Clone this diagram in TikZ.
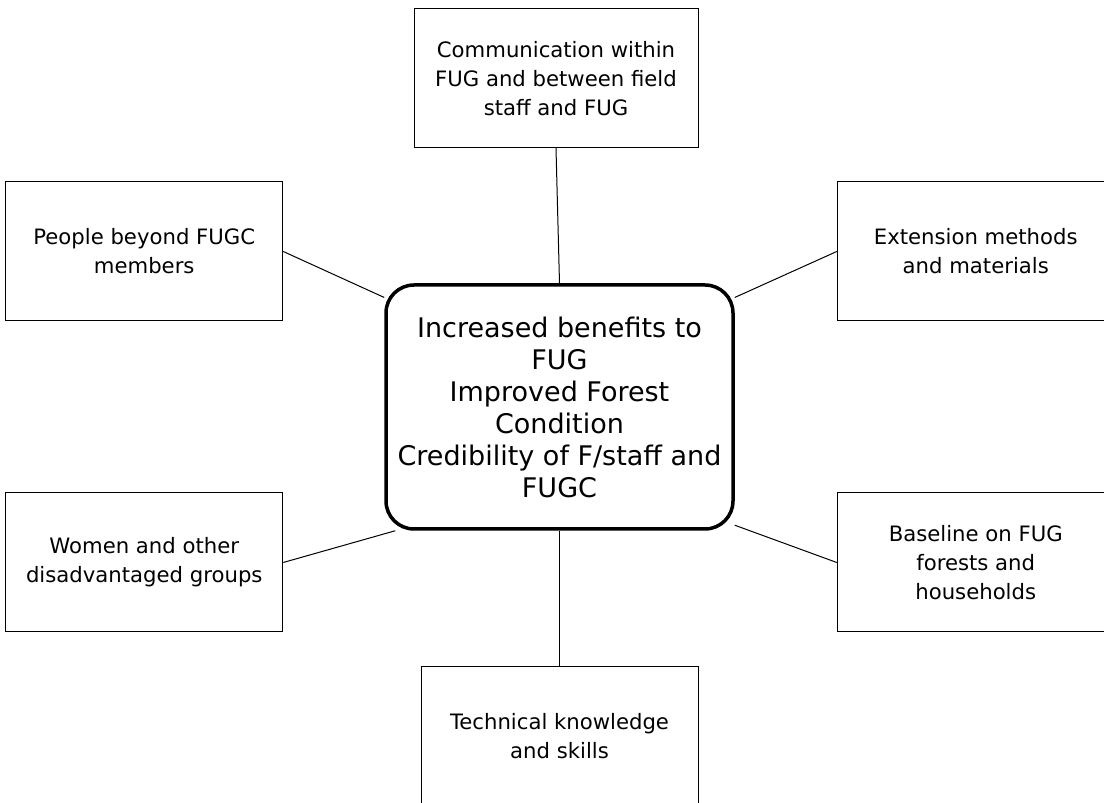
\documentclass[tikz,border=0pt]{standalone}
\usepackage{fontspec}
\setmainfont{DejaVu Sans}
\usepackage{tikz}
\usetikzlibrary{positioning}

\begin{document}
\begin{tikzpicture}[
    x=0.5pt, y=0.5pt,
    block/.style={rectangle, draw, line width=0.5pt, minimum width=138.5pt, minimum height=69.5pt, inner sep=2pt, align=center, font=\fontsize{10.6}{14.5}\selectfont},
    goal/.style={rectangle, draw, rounded corners=14pt, line width=1.75pt, minimum width=173.5pt, minimum height=122pt, inner sep=2pt, align=center, font=\fontsize{13.5}{16}\selectfont},
    link/.style={line width=0.5pt}
]
    \useasboundingbox (0,0) rectangle (1104,803);
    \clip (0,0) rectangle (1104,803);

    % Layout
    \node[goal] (Core) at (559.5,396) {Increased benefits to\\FUG\\Improved Forest\\Condition\\Credibility of F/staff and\\FUGC};
    \node[block, minimum width=142pt, above=67.5pt of Core, xshift=-1.75pt] (Comm) {Communication within\\FUG and between field\\staff and FUG};
    \node[block, below=67.5pt of Core] (Tech) {Technical knowledge\\and skills};
    \node[block, left=50.5pt of Core, yshift=77.75pt] (People) {People beyond FUGC\\members};
    \node[block, left=50.5pt of Core, yshift=-77.75pt] (Women) {Women and other\\disadvantaged groups};
    \node[block, right=51pt of Core, yshift=77.75pt] (Ext) {Extension methods\\and materials};
    \node[block, right=51pt of Core, yshift=-77.75pt] (Base) {Baseline on FUG\\forests and\\households};

    % Links
    \draw[link] (Comm.south) -- (Core.north);
    \draw[link] (Core.south) -- (Tech.north);
    \draw[link] (People.east) -- (Core.148);
    \draw[link] (Women.east) -- (Core.217);
    \draw[link] (Ext.west) -- (Core.32);
    \draw[link] (Base.west) -- (Core.326);
\end{tikzpicture}
\end{document}
